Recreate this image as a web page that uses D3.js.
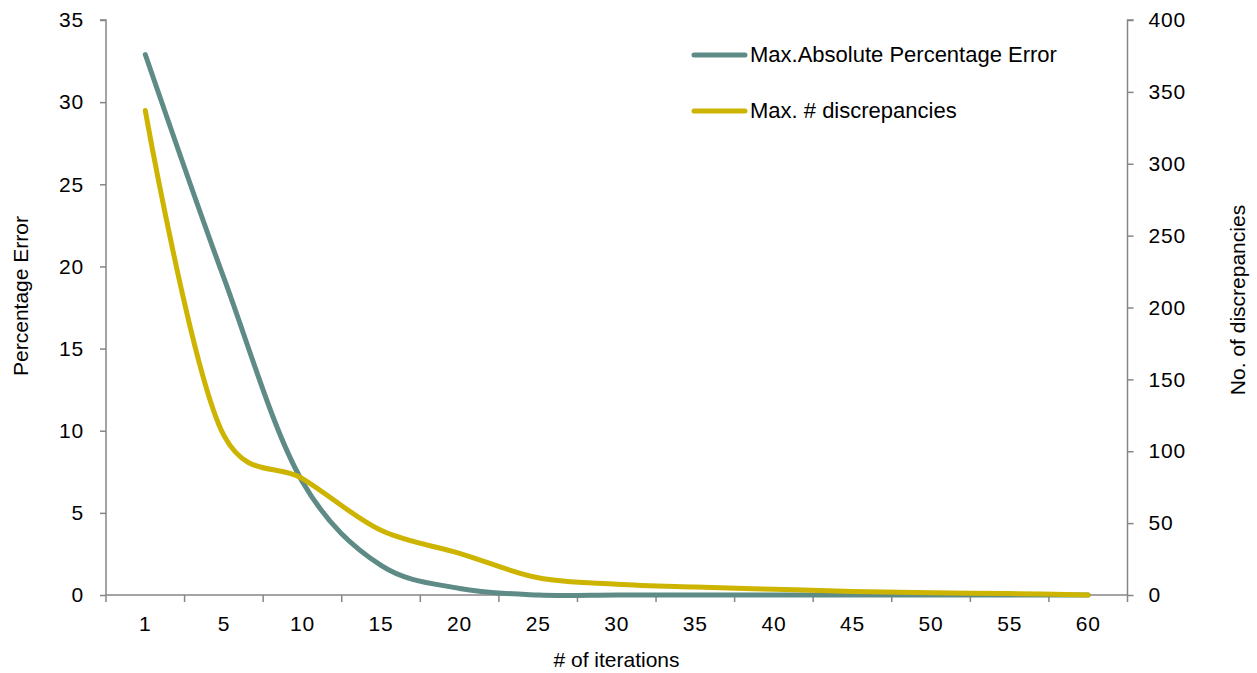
<!DOCTYPE html>
<html lang="en">
<head>
    <meta charset="UTF-8">
    <title>Iterations vs error</title>
    <script src="https://d3js.org/d3.v7.min.js"></script>
    <style>
        body {
            margin: 0;
            background: #fff;
            font-family: 'Liberation Sans', Arial, sans-serif;
        }
        svg {
            display: block;
        }
        .axis path, .axis line {
            stroke: #868686;
            stroke-width: 1.5;
        }
        .axis text {
            font-size: 21px;
            letter-spacing: 0.8px;
            fill: #000;
        }
        .axis-title {
            font-size: 21px;
            fill: #000;
        }
        .legend-text {
            font-size: 22px;
            fill: #000;
        }
    </style>
</head>
<body>
<svg width="1257" height="673"></svg>
<script>
const iterations = ["1", "5", "10", "15", "20", "25", "30", "35", "40", "45", "50", "55", "60"];
const maxAbsPctError = [32.9, 19.3, 6.9, 1.8, 0.4, 0, 0, 0, 0, 0, 0, 0, 0];
const maxDiscrepancies = [337, 111, 81, 45, 29, 12, 7.5, 5.5, 4, 2.5, 1.5, 1, 0];
const leftTicks = [0, 5, 10, 15, 20, 25, 30, 35];
const rightTicks = [0, 50, 100, 150, 200, 250, 300, 350, 400];

const svg = d3.select("svg");
const margin = { left: 106, right: 130, top: 20, bottom: 78 };
const width = 1257, height = 673;
const plotBottom = height - margin.bottom;
const plotRight = width - margin.right;

const x = d3.scaleBand().domain(iterations).range([margin.left, plotRight + 0.5]).padding(0);
const yLeft = d3.scaleLinear().domain([0, 35]).range([plotBottom, margin.top]);
const yRight = d3.scaleLinear().domain([0, 400]).range([plotBottom, margin.top]);

// left axis
const gl = svg.append("g").attr("class", "axis")
    .attr("transform", `translate(${margin.left},0)`)
    .call(d3.axisLeft(yLeft).tickValues(leftTicks).tickSize(6).tickPadding(16));
gl.select(".domain").attr("d", `M-6,${yLeft(35)}H0V${yLeft(0)}`);

// right axis
const gr = svg.append("g").attr("class", "axis")
    .attr("transform", `translate(${x.range()[1]},0)`)
    .call(d3.axisRight(yRight).tickValues(rightTicks).tickSize(6).tickPadding(15));
gr.select(".domain").attr("d", `M6,${yRight(400)}H0V${yRight(0)}`);

// bottom axis: labels at band centres, ticks on band edges
const gb = svg.append("g").attr("class", "axis")
    .attr("transform", `translate(0,${plotBottom})`)
    .call(d3.axisBottom(x).tickSize(0).tickPadding(21));
gb.select(".domain").attr("d", `M${x.range()[0]},0H${x.range()[1]}`);
const edges = iterations.map(d => x(d)).concat([x.range()[1]]);
gb.selectAll(".edge").data(edges).enter().append("line")
    .attr("class", "edge")
    .attr("x1", d => d).attr("x2", d => d)
    .attr("y1", 0).attr("y2", 7);

// axis titles
svg.append("text").attr("class", "axis-title")
    .attr("transform", "translate(28,296) rotate(-90)")
    .attr("text-anchor", "middle")
    .text("Percentage Error");
svg.append("text").attr("class", "axis-title")
    .attr("transform", "translate(1245,300) rotate(-90)")
    .attr("text-anchor", "middle")
    .text("No. of discrepancies");
svg.append("text").attr("class", "axis-title")
    .attr("x", (margin.left + plotRight) / 2)
    .attr("y", 667)
    .attr("text-anchor", "middle")
    .text("# of iterations");

const cx = d => x(d) + x.bandwidth() / 2;

const lineLeft = d3.line()
    .x((d, i) => cx(iterations[i]))
    .y(d => yLeft(d))
    .curve(d3.curveCatmullRom.alpha(0.2));
const lineRight = d3.line()
    .x((d, i) => cx(iterations[i]))
    .y(d => yRight(d))
    .curve(d3.curveCatmullRom.alpha(0.2));

const teal = "#5f8b87";
const gold = "#ccb400";

svg.append("path").datum(maxAbsPctError)
    .attr("d", lineLeft)
    .attr("fill", "none").attr("stroke", teal)
    .attr("stroke-width", 5).attr("stroke-linecap", "round").attr("stroke-linejoin", "round");
svg.append("path").datum(maxDiscrepancies)
    .attr("d", lineRight)
    .attr("fill", "none").attr("stroke", gold)
    .attr("stroke-width", 5).attr("stroke-linecap", "round").attr("stroke-linejoin", "round");

// legend
const legend = [
    { name: "Max.Absolute Percentage Error", color: teal },
    { name: "Max. # discrepancies", color: gold }
];
legend.forEach((l, i) => {
    const ly = 55 + i * 56;
    svg.append("line")
        .attr("x1", 694).attr("x2", 745)
        .attr("y1", ly).attr("y2", ly)
        .attr("stroke", l.color).attr("stroke-width", 5).attr("stroke-linecap", "round");
    svg.append("text").attr("class", "legend-text")
        .attr("x", 750).attr("y", ly + 7)
        .text(l.name);
});
</script>
</body>
</html>
